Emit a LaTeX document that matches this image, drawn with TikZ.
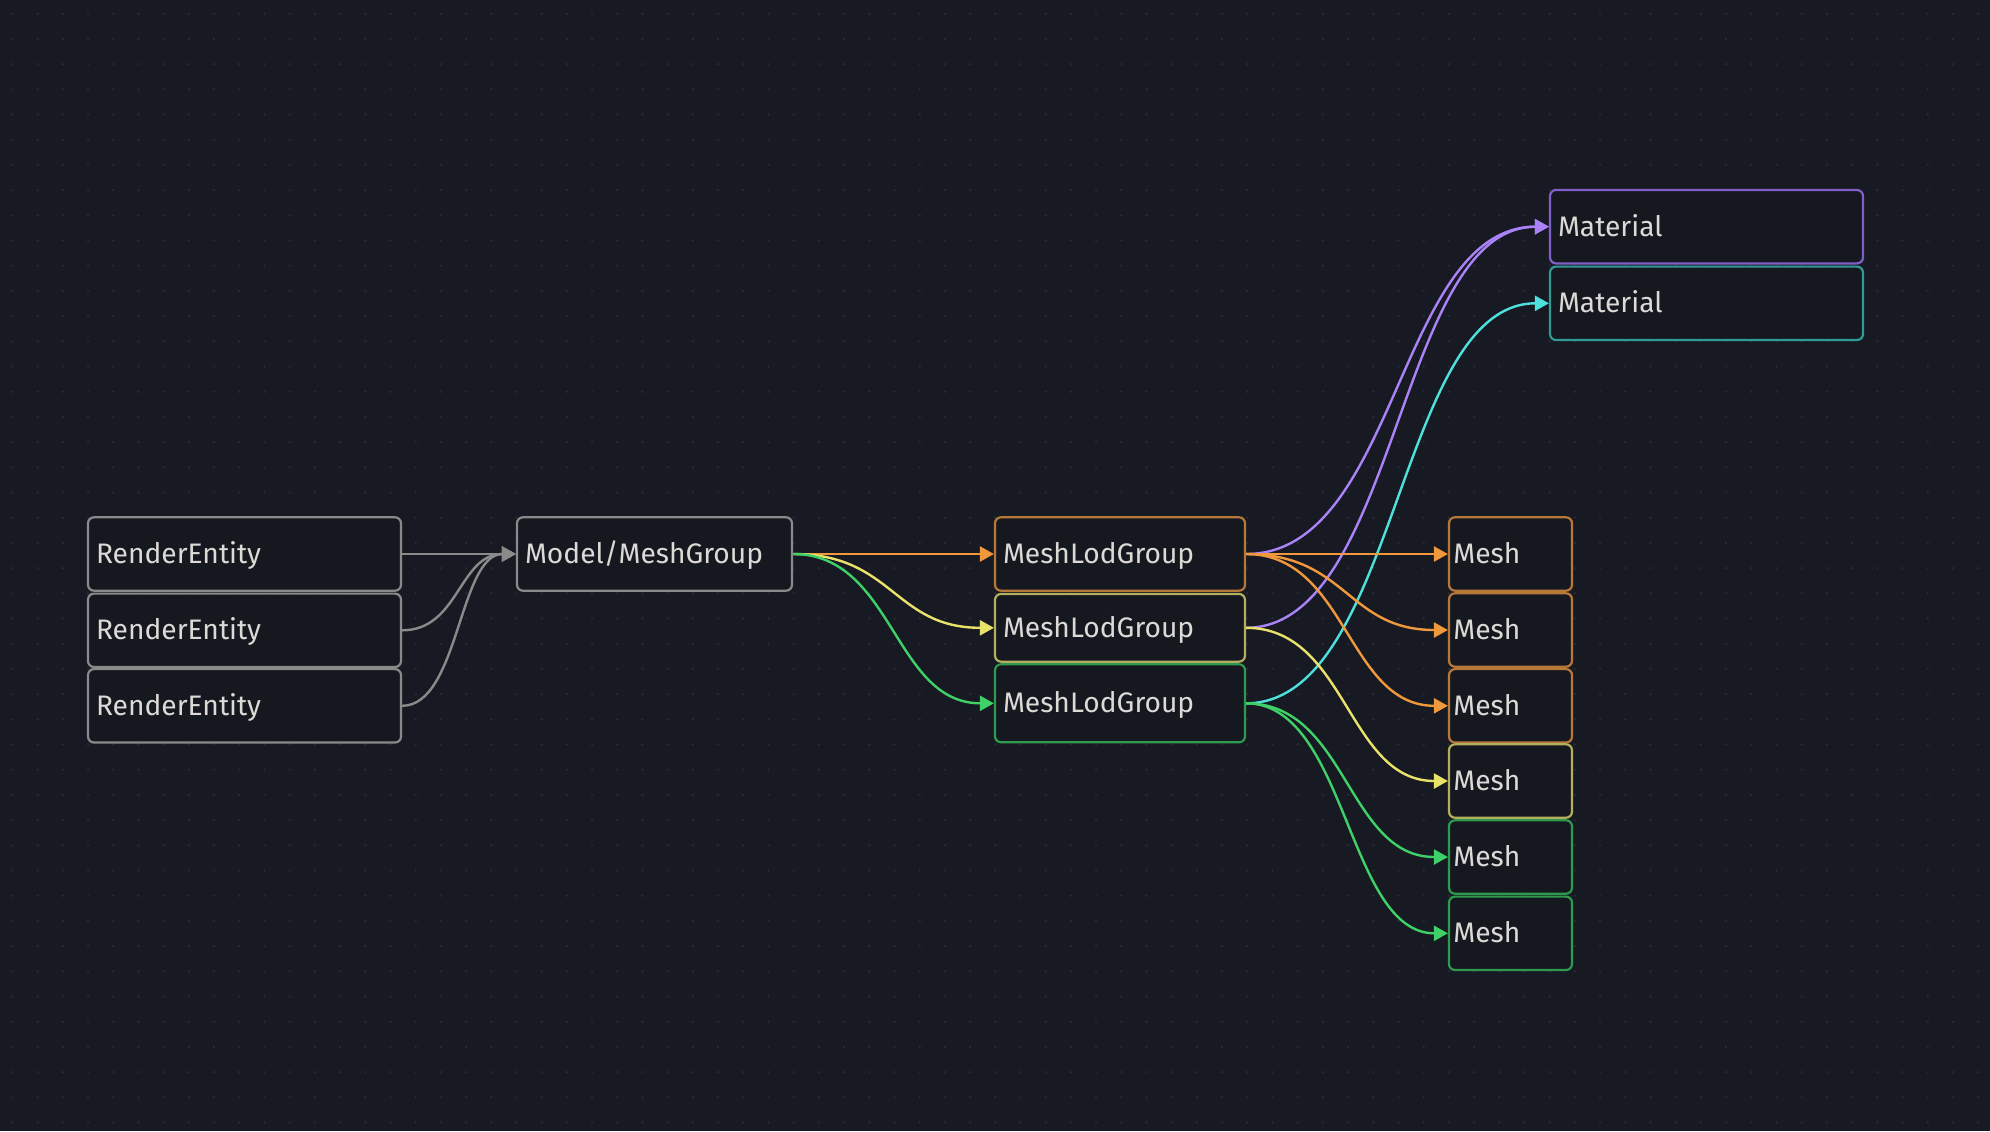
\documentclass[tikz,border=0pt]{standalone}
\usepackage{fontspec}
\setmainfont{Fira Sans}
\usetikzlibrary{arrows.meta,calc,positioning}

\definecolor{canvas}{HTML}{171A23}
\definecolor{boxfill}{HTML}{161820}
\definecolor{griddot}{HTML}{282B35}
\definecolor{label}{HTML}{DCDAD6}
\definecolor{gray}{HTML}{8A8A8A}
\definecolor{orange}{HTML}{F0993C}
\definecolor{orangebox}{HTML}{B8783A}
\definecolor{yellow}{HTML}{E8E26A}
\definecolor{yellowbox}{HTML}{B4AE5E}
\definecolor{green}{HTML}{3FD068}
\definecolor{greenbox}{HTML}{2E9A4E}
\definecolor{purple}{HTML}{A983F7}
\definecolor{purplebox}{HTML}{8060C8}
\definecolor{teal}{HTML}{4EE0DC}
\definecolor{tealbox}{HTML}{2F9A96}

\tikzset{
  box/.style 2 args={draw=#1, fill=boxfill, rounded corners=3pt, line width=1.1pt,
    text width=#2, align=left, inner xsep=4pt, inner ysep=0pt,
    minimum height=36.7pt, text height=9.6pt, text depth=0pt, text=label,
    font=\fontsize{14.1}{16}\selectfont},
  link/.style={draw=#1, line width=1.2pt, -{Triangle[length=7pt,width=7.5pt]},
    to path={let \p1=(\tikztostart), \p2=(\tikztotarget) in
      .. controls ({(\x1+\x2)/2},\y1) and ({(\x1+\x2)/2},\y2) .. (\tikztotarget)}},
}

\begin{document}
\begin{tikzpicture}[x=0.5pt,y=-0.5pt]

% background and dot grid
\fill[canvas] (0,0) rectangle (1990,1131);
\useasboundingbox (0,0) rectangle (1990,1131);
\foreach \i in {0,...,78}
  \foreach \j in {0,...,44}
    \fill[griddot] (12.5+25.2*\i,13.7+25.2*\j) circle (1.3);

% entities
\node[box={gray}{148.5pt}] (re1) at (244.5,554) {RenderEntity};
\node[box={gray}{148.5pt}] (re2) at (244.5,630.3) {RenderEntity};
\node[box={gray}{148.5pt}] (re3) at (244.5,705.8) {RenderEntity};

\node[box={gray}{129.5pt}] (model) at (654.5,554) {Model/MeshGroup};

% lod groups
\node[box={orangebox}{117pt}] (lod1) at (1120,554) {MeshLodGroup};
\node[box={yellowbox}{117pt}, minimum height=33.85pt] (lod2) at (1120,627.8) {MeshLodGroup};
\node[box={greenbox}{117pt}, minimum height=39pt] (lod3) at (1120,703.3) {MeshLodGroup};

% meshes
\node[box={orangebox}{57.1pt}, inner xsep=2.2pt] (mesh1) at (1510.5,554) {Mesh};
\node[box={orangebox}{57.1pt}, inner xsep=2.2pt] (mesh2) at (1510.5,630) {Mesh};
\node[box={orangebox}{57.1pt}, inner xsep=2.2pt] (mesh3) at (1510.5,705.8) {Mesh};
\node[box={yellowbox}{57.1pt}, inner xsep=2.2pt] (mesh4) at (1510.5,781) {Mesh};
\node[box={greenbox}{57.1pt}, inner xsep=2.2pt] (mesh5) at (1510.5,857) {Mesh};
\node[box={greenbox}{57.1pt}, inner xsep=2.2pt] (mesh6) at (1510.5,933.3) {Mesh};

% materials
\node[box={purplebox}{148.5pt}] (mat1) at (1706.5,226.7) {Material};
\node[box={tealbox}{148.5pt}] (mat2) at (1706.5,303.3) {Material};

% links
\draw[link=gray] (re1.east) to (model.west);
\draw[link=gray] (re2.east) to (model.west);
\draw[link=gray] (re3.east) to (model.west);

\draw[link=orange] (model.east) to (lod1.west);
\draw[link=yellow] (model.east) to (lod2.west);
\draw[link=green] (model.east) to (lod3.west);

\draw[link=purple] (lod1.east) to (mat1.west);
\draw[link=purple] (lod2.east) to (mat1.west);
\draw[link=teal] (lod3.east) to (mat2.west);

\draw[link=orange] (lod1.east) to (mesh1.west);
\draw[link=orange] (lod1.east) to (mesh2.west);
\draw[link=orange] (lod1.east) to (mesh3.west);
\draw[link=yellow] (lod2.east) to (mesh4.west);
\draw[link=green] (lod3.east) to (mesh5.west);
\draw[link=green] (lod3.east) to (mesh6.west);

\end{tikzpicture}
\end{document}
